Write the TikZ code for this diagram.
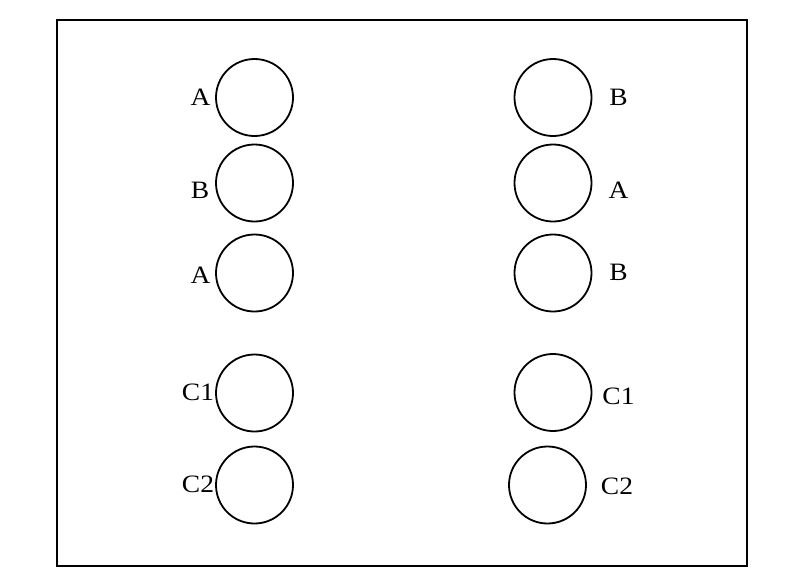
\documentclass[tikz,border=0pt]{standalone}
\usepackage{fontspec}
\setmainfont{Liberation Serif}[FakeStretch=1.1]
\begin{document}
\begin{tikzpicture}[x=1pt,y=-1pt,
  ring/.style={draw,circle,line width=1.8pt,minimum size=77pt,inner sep=0pt},
  lbl/.style={font=\fontsize{25}{27}\selectfont,inner sep=0pt,anchor=base}]
\useasboundingbox (0,0) rectangle (800,584);
\node[draw,line width=1.6pt,minimum width=690pt,minimum height=546pt,anchor=north west,inner sep=0pt] (frame) at (56,19) {};
% left column
\node[ring] (l1) at (254.5,97.5) {};
\node[ring] (l2) at (254.5,183) {};
\node[ring] (l3) at (254.5,273) {};
\node[ring] (l4) at (254.5,393) {};
\node[ring] (l5) at (254.5,485) {};
% right column
\node[ring] (r1) at (553,97.5) {};
\node[ring] (r2) at (553,183) {};
\node[ring] (r3) at (553,273) {};
\node[ring] (r4) at (553,392.5) {};
\node[ring] (r5) at (547.5,485) {};
% left labels
\node[lbl] (la1) at (200.5,105) {A};
\node[lbl] (la2) at (200,198) {B};
\node[lbl] (la3) at (200.5,283) {A};
\node[lbl] (la4) at (198,400) {C1};
\node[lbl] (la5) at (198,492) {C2};
% right labels
\node[lbl] (ra1) at (618.5,105) {B};
\node[lbl] (ra2) at (618.5,198) {A};
\node[lbl] (ra3) at (618.5,280) {B};
\node[lbl] (ra4) at (618.5,404) {C1};
\node[lbl] (ra5) at (617,494) {C2};
\end{tikzpicture}
\end{document}
